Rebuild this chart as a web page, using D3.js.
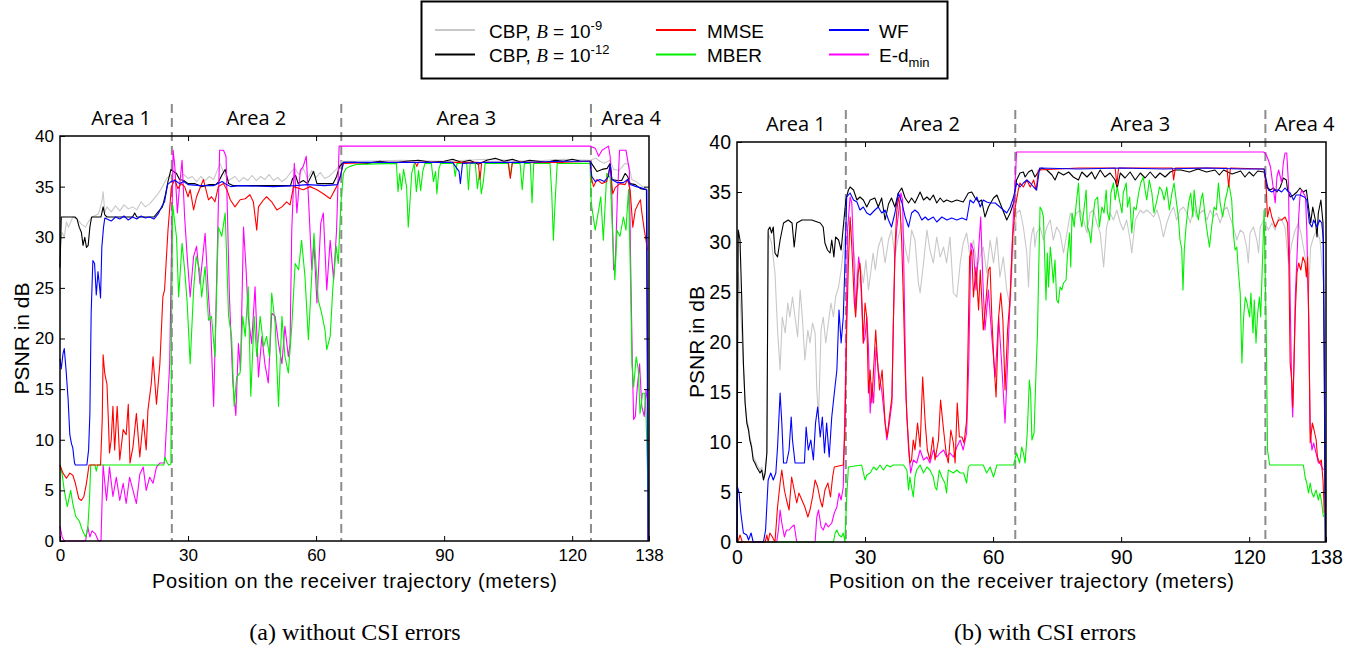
<!DOCTYPE html>
<html>
<head>
<meta charset="utf-8">
<script src="https://cdn.jsdelivr.net/npm/d3@7"></script>
<style>
  body { margin: 0; background: #fff; }
  text { font-family: "Liberation Sans", Arial, sans-serif; fill: #000; }
</style>
</head>
<body>
<script>
'use strict';

// axis ticks
const xTicks = [0, 30, 60, 90, 120, 138];
const yTicks = [0, 5, 10, 15, 20, 25, 30, 35, 40];

// areas along the trajectory (meters)
const areaNames = ["Area 1", "Area 2", "Area 3", "Area 4"];
const a_areaPos = [14.3, 46, 95.2, 133.8];
const b_areaPos = [13.8, 45.2, 94.5, 133];
const a_borders = [26.2, 65.9, 124.4];
const b_borders = [25.5, 65.2, 123.8];

const seriesKeys = ["cbp9", "cbp12", "edmin", "mber", "mmse", "wf"];
const seriesColors = {cbp9: "#c8c8c8", cbp12: "#000000", mmse: "#ff0000",
  mber: "#00f000", wf: "#0000ff", edmin: "#ff00ff"};

// ---------- (a) without CSI errors : [position m, PSNR dB] ----------
const a_cbp9 = [[0,29],[0.5,30.5],[1,30],[1.5,31.5],[2,31],[3,32],[4,31.8],[5,31.3],[6,31],[6.6,31.5],[7.5,32],[9,32.3],[9.8,33.5],[10.1,34.5],[10.5,32.5],[11,33],[12,32.5],[13,33.1],[14,32.6],[15,33.2],[16,32.8],[17,33],[18,32.7],[19,33.5],[20,33],[21,33.3],[22,33.8],[23,34.3],[24,35],[25,35.8],[26,36.2],[27,36.4],[28,35.8],[29,36.2],[30,35.8],[31,36],[32,35.5],[33,36],[34,35.6],[35,36],[36,35.7],[37.5,37.3],[38.5,36.2],[39.5,35.6],[41,36],[42,35.5],[43,35.9],[44,35.6],[45,36.1],[46,35.6],[47,36],[48,35.7],[49,36.2],[50,35.6],[51,35.9],[52,35.5],[53,35.8],[54,36.4],[55,36.8],[56,36.2],[57,36.8],[58,35.8],[59,36.6],[60,35.9],[61,36.4],[62,35.8],[63,36],[64,36.4],[65,36.8],[66,37.5],[70,37.5],[80,37.6],[90,37.5],[100,37.7],[110,37.5],[118,37.7],[124.2,37.6],[125.5,37.8],[126.5,37.5],[127.5,37.3],[128.9,37.6],[129.7,36.7],[131,36.6],[132.4,37.3],[133.2,37.2],[134,35.7],[135,35.5],[136.5,35],[137.6,34.8]];

const a_cbp12 = [[0,27],[0.3,32],[3.5,32],[4,31.8],[4.5,31],[5,30.5],[5.4,29.2],[5.8,30],[6.2,29],[6.6,29.2],[7,31],[7.4,32],[9.6,32],[10.1,33],[10.5,32.2],[11,32],[17,32],[17.5,32.4],[18,32],[22,32],[23,32.5],[24,33],[24.7,34.2],[25.3,35.5],[26,36.7],[26.6,36.5],[27.3,36.3],[28,35.7],[29,35.6],[30,35.3],[31.5,35.3],[33.2,35],[35,35.2],[36.5,35.2],[37.2,35.5],[38,36.2],[38.7,36.7],[39.5,35.3],[40.5,35.1],[54,35.1],[54.5,35.8],[55.2,36.1],[55.8,35.3],[57,35.6],[58,35.3],[59.4,36.5],[60.2,35.3],[64,35.3],[64.8,36],[65.5,37],[66.4,37.4],[69,37.4],[72,37.3],[75,37.5],[78,37.3],[81,37.5],[84,37.6],[87,37.4],[90,37.5],[92,37.7],[94,37.4],[96,37.6],[98,37.2],[100,37.6],[102,37.8],[104,37.5],[106,37.7],[108,37.4],[110,37.6],[112,37.5],[114,37.4],[116,37.6],[118,37.5],[120,37.7],[122,37.5],[124.2,37.5],[125,37],[125.8,36.5],[127,36.7],[128.2,36.8],[128.9,37.3],[129.3,35.7],[130.5,35.6],[131.6,35.6],[132.4,36.3],[133,36],[133.6,35.3],[134.8,35.2],[136,34.8],[137.4,34.7],[137.8,0]];

const a_wf = [[0,18],[0.3,17],[0.7,18.5],[1,19],[1.4,17],[1.9,14],[2.3,10.5],[2.7,9.6],[3,9.2],[3.4,7.7],[3.6,7.5],[6.3,7.5],[6.7,9],[7,12.6],[7.3,22.5],[7.7,27.7],[8.1,27.4],[8.5,24.3],[8.9,26.6],[9.3,25],[9.5,24],[9.8,29],[10.2,31],[10.5,31.9],[11,31.8],[12,31.6],[13,32],[14,31.8],[15,32.1],[16,31.7],[17,32],[18,31.8],[19,32.1],[20,31.9],[21,32],[22,31.8],[23,32.3],[23.8,33],[24.5,33.5],[25.2,35.2],[26,35.5],[27,35.6],[28,35.3],[29,35.5],[30,35.2],[33,35.1],[36,35.1],[37,35.3],[38,35.5],[39,35.2],[40,35],[42,35.1],[50,35],[55,35.1],[58,35.2],[62,35.1],[65,35.2],[65.7,36],[66.4,37.4],[75,37.4],[85,37.4],[92,37.4],[93.5,36.5],[93.8,35.3],[94.3,37.3],[100,37.4],[110,37.4],[118,37.5],[124.2,37.5],[124.6,36],[125.4,35.5],[126.5,35.7],[127.5,35.5],[128.5,36],[128.9,37.2],[129.3,35.7],[130.5,35.4],[132,35.4],[133,35.7],[133.6,35.2],[135,35],[136,34.9],[137.5,34.7],[137.8,0]];

const a_mmse = [[0,7.5],[0.7,6.7],[1.5,6.2],[2.3,6.7],[3,6.5],[3.6,5.7],[4.4,4.2],[5,4],[5.6,4.4],[6.2,5.7],[6.8,7.5],[9.5,7.5],[9.9,12],[10.1,18.4],[10.5,16.5],[11,15.5],[11.3,12.3],[11.6,8.7],[12,10],[12.4,13.3],[12.8,9],[13.4,13.3],[14,8],[14.8,11],[15.5,10.5],[16,13.5],[16.4,7.7],[17.1,9.3],[17.9,12.6],[18.7,8.3],[19.5,12],[20.2,9],[20.6,12.9],[21.4,15.6],[21.8,18.2],[22.6,13.5],[23.4,17.5],[24.1,24.1],[24.5,24.8],[25.3,30.7],[26.1,35],[26.9,35.7],[27.6,34.8],[28.4,35.3],[29.2,35],[30,34],[30.5,34.7],[31.3,32.7],[32,34],[33.6,35.7],[34.8,33.7],[35.5,34],[36.3,33.5],[37.1,35],[38.3,35.3],[39.1,34.7],[39.9,33.7],[41,33],[42.2,33.7],[43.4,33.8],[44.5,34.2],[45.3,33.5],[46.1,30.7],[46.5,33],[47.7,33.7],[48.4,34],[49.6,33.5],[50.8,32.7],[52,33],[53.1,33.5],[53.9,33.2],[54.7,35],[57,34.7],[58.6,35],[60.2,34.7],[61.7,34.3],[63.3,33.8],[64.8,35],[65.5,35.8],[66.4,37.3],[75,37.4],[83.2,37.4],[83.6,37],[84,37.4],[98,37.4],[98.4,35.7],[98.8,37.4],[105,37.4],[105.5,35.8],[106,37.4],[118,37.4],[124.2,37.5],[124.6,35.7],[125,35],[125.8,35.7],[127,35.3],[128.1,35.5],[128.9,37.1],[129.5,34.3],[130.1,34.9],[131.2,35.3],[132.4,35.2],[133,35.7],[133.6,34.6],[134.2,31],[134.8,32.7],[135.5,33.3],[136,33.7],[136.3,32.5],[136.9,30.7],[137.3,29.7],[137.6,28.7]];

const a_mber = [[0,7.5],[0.5,6.6],[1,5],[1.7,3.4],[2.5,5],[3,3.7],[3.7,2.4],[4.5,2],[5.2,1.1],[6,0.4],[6.5,1.2],[6.9,4],[7.2,7.5],[8.2,7.5],[8.5,6.9],[8.8,7.5],[24.3,7.5],[24.6,8.3],[25,7.8],[25.5,7.5],[26,7.6],[26.1,20],[26.4,33.2],[27.3,30],[27.8,24.1],[28.6,29.4],[29.2,26.8],[29.8,23.5],[30.5,17.5],[31.3,24.8],[31.9,28.1],[32.7,26.8],[33.2,24.1],[34,27.1],[34.8,21.8],[35.5,22.2],[36.3,18.2],[37.1,31],[37.9,30.1],[38.7,32.4],[39.5,22.2],[40.2,20.2],[40.8,13.3],[41.4,16.2],[42.2,16.6],[42.8,22.2],[43.4,20.2],[44.1,25.1],[44.7,14.3],[45.5,22.2],[46.1,18.2],[46.9,22.2],[47.7,19.2],[48.4,20.2],[49.1,18.2],[49.6,24.5],[50.4,21.5],[51.2,13.3],[52,22.2],[52.7,18.2],[53.5,16.6],[54.3,21.2],[55.1,27.4],[55.9,26.8],[56.6,29.7],[57.4,26.1],[58.2,19.9],[59,26.4],[59.5,30.4],[60.5,23.8],[61.3,22.5],[62.1,20.8],[62.5,18.9],[63.3,20.2],[63.9,24.8],[64.7,29.1],[65.2,27.4],[65.8,33.3],[66.4,36.3],[67,36.8],[68,37],[69.5,37.2],[78.8,37.3],[79.2,34.5],[79.6,36.3],[80,34.7],[80.5,36.7],[81.2,35],[81.6,31],[82,33.5],[82.4,36.3],[83,37.3],[83.5,34.5],[84,36.6],[84.5,34.6],[85,36.5],[85.5,37.3],[87,37.3],[87.5,35.5],[88,36.5],[88.3,34.3],[88.8,36.8],[89.2,37.3],[92.2,37.3],[92.6,36],[93,37.3],[95.3,37.3],[95.7,34.7],[96.1,37.3],[97.3,37.3],[97.8,34.8],[98.3,36.5],[98.7,34.3],[99.2,35.5],[99.6,37.3],[105.1,37.3],[105.5,36],[105.9,37.3],[107.8,37.3],[108.3,34.7],[108.8,37.3],[110.2,37.3],[110.6,33.4],[111,37.3],[114.8,37.3],[115.2,34.5],[115.6,29.7],[116,33.5],[116.5,37.3],[124.2,37.3],[124.4,34],[124.6,33],[125.4,30.7],[126.2,32.7],[126.7,34],[127.3,29.7],[128.1,36.3],[128.9,35.9],[129.5,30.1],[130,25.8],[130.5,30.7],[131.2,30.1],[132,32],[132.6,30.7],[133.2,34.7],[133.6,27.4],[134,17.5],[134.4,15.2],[135,18.2],[135.5,16.9],[135.9,12.6],[136.5,14.6],[137,14.6],[137.3,12.6],[137.7,6],[137.9,0]];

const a_edmin = [[0,1.5],[0.5,0.4],[1,0],[6,0],[6.5,1.4],[7,0.4],[7.5,1],[8.3,0.7],[9,0],[9.6,0],[10.1,7.5],[10.9,4],[11.6,7.3],[12.4,4.4],[13.2,6.3],[14,4],[14.8,5.7],[15.5,3.7],[16.3,6.3],[17.1,5],[17.9,3.7],[18.7,6.6],[19.5,7.3],[20.2,5],[21,6.3],[21.8,5.7],[22.6,7.3],[23.4,7.7],[24.5,7.7],[25.7,17.5],[26.5,38.6],[26.9,37],[27.5,32.4],[28,35],[28.6,37.6],[29.2,32],[29.8,28.1],[30.5,24.1],[31.3,28.1],[32,29.1],[32.8,25.4],[34,30.4],[34.8,24.1],[35.3,21.2],[36,13.3],[36.7,25.8],[37.4,38.6],[38.3,38.6],[38.9,38],[39.7,24.1],[40.5,15.6],[41.2,12.4],[41.8,19.5],[42.3,16.9],[43,31],[43.6,26.8],[44.1,22.2],[44.9,19.5],[45.7,25.1],[46.5,16.2],[47.3,20.2],[48,17.5],[48.8,15.6],[49.6,22.5],[50.4,22.2],[51.2,19.5],[52,17.5],[52.7,21.2],[53.5,18.2],[53.9,19.5],[54.3,30.7],[54.9,37.3],[55.5,32.4],[56.3,36.6],[57,37],[57.7,38],[58.2,34],[59,26.8],[59.5,29.4],[60.2,23.5],[61.1,31.4],[61.7,32.4],[62.5,24.8],[63.3,29.7],[64.1,25.8],[64.8,30.7],[65.4,39],[66,39],[124.2,39],[125.4,38.8],[126.2,38],[127,38.6],[128.5,39],[128.9,38],[129.3,34],[129.7,26.8],[130.1,27.4],[130.6,34],[131.1,38.6],[132.6,38.6],[133.4,36.6],[133.7,27.4],[134.1,17.5],[134.4,12],[134.8,12.3],[135.2,14.9],[135.8,17.5],[136.3,13.3],[136.9,12.3],[137.3,14.9],[137.6,14],[137.8,0]];

// ---------- (b) with CSI errors ----------
const b_cbp9 = [[0,22.5],[0.3,26.9],[0.7,24.5],[1,22],[1.5,17.5],[1.9,14],[2.3,12.2],[2.7,11.5],[3,10.5],[3.4,9.8],[3.8,8.5],[4.2,8.2],[4.6,7.8],[5,7.5],[5.4,7.2],[5.8,7.5],[6.2,6.5],[6.6,7.2],[7,9],[7.3,30.9],[8.1,29.9],[8.9,26.9],[9.5,21.2],[10.1,17.2],[10.6,22.5],[11.3,20.9],[11.9,23.9],[12.4,22.5],[13,24.5],[13.6,22.5],[14.2,20.5],[14.8,25.2],[15.3,22.5],[15.9,18.2],[16.6,21.2],[17.1,19.9],[17.7,21.9],[18.3,20.9],[18.7,15.2],[19.1,12.5],[19.7,21.2],[20.2,22.5],[20.8,19.9],[21.4,21.9],[22,23.9],[22.6,22.5],[23.1,24.5],[23.8,25.5],[24.4,27.2],[24.9,29.2],[25.5,31.2],[26.5,32.2],[27.3,29.2],[27.7,27.9],[28.3,25.2],[29.1,27.2],[29.6,25.9],[30.2,28.2],[30.8,25.2],[31.4,27.2],[31.9,28.9],[32.4,27.2],[33.1,29.5],[33.9,30.5],[34.7,27.9],[35.5,30.2],[36.2,31.2],[37,28.5],[37.8,30.5],[38.6,31.9],[39.4,29.5],[40.2,27.9],[40.9,31.2],[41.7,30.2],[42.5,25.9],[42.9,24.9],[43.7,27.9],[44.5,31.2],[45.2,29.2],[46,27.9],[46.8,30.5],[47.6,28.5],[48.4,29.5],[49.1,27.9],[49.9,30.5],[50.7,24.9],[51.5,24.5],[52.3,27.9],[53,29.9],[53.8,30.9],[54.6,28.5],[55.4,30.2],[56.2,27.5],[56.9,28.5],[57.7,29.5],[58.5,26.9],[59.3,30.2],[60.1,27.9],[60.9,30.5],[61.6,26.5],[62.4,28.5],[63.2,25.2],[64,23.5],[64.8,30.2],[65.5,32.9],[66.3,33.2],[67.1,31.5],[67.9,28.9],[68.3,25.5],[68.7,29.5],[69.1,30.9],[69.5,31.5],[69.8,29.5],[70.2,30.9],[71,31.5],[71.8,30.2],[72.6,31.5],[73.4,32.2],[74.1,30.2],[74.9,31.5],[75.7,30.9],[76.5,28.9],[77.3,30.9],[78.1,32.9],[78.8,32.2],[79.6,32.9],[80.4,33.2],[81.2,32.2],[82,30.9],[82.7,32.9],[83.5,33.2],[84.3,31.9],[85.1,30.9],[85.9,27.5],[86.6,31.5],[87.4,32.9],[88.2,32.2],[89,33.2],[89.8,31.9],[90.5,31.2],[91.3,32.2],[92.1,30.2],[92.5,28.9],[93.3,32.2],[94.5,33.2],[95.2,32.9],[96,33.2],[96.8,32.9],[97.6,32.5],[98.4,33.2],[99.1,32.2],[99.9,30.5],[100.7,31.9],[101.5,32.9],[102.3,33.5],[103,32.2],[103.8,33.2],[104.6,33.5],[105.4,32.9],[106.2,31.9],[107,33.5],[107.7,32.5],[108.5,32.9],[109.3,33.2],[110.1,32.2],[110.9,33.2],[111.6,32.5],[112.4,32.9],[113.2,31.9],[114,33.2],[114.8,33.5],[115.5,32.5],[116.3,31.5],[117.1,30.2],[117.9,31.2],[118.7,30.9],[119.4,29.5],[119.8,27.9],[120.2,30.9],[121,31.5],[121.8,30.2],[122.2,28.9],[122.6,31.5],[123.4,32.2],[124.5,31.2],[125.3,31.9],[126.1,31.2],[126.9,32.5],[127.6,32.2],[128.4,31.5],[129.2,27.9],[130,29.9],[130.8,31.2],[131.6,31.9],[132.3,30.5],[133.1,28.5],[133.9,24.9],[134.4,29.5],[135.1,30.5],[135.8,31.2],[136.6,30.2],[137.4,25.9]];

const b_cbp12 = [[0,0],[0.2,25],[0.3,31.2],[0.7,30.2],[1.1,24.5],[1.5,17.9],[1.9,13.9],[2.3,11.9],[2.7,11.2],[3,10.2],[3.4,9.5],[3.8,8.2],[4.2,7.9],[4.6,7.5],[5,7.2],[5.4,6.9],[5.8,7.2],[6.2,6.2],[6.6,6.9],[7,8.9],[7.3,31.2],[7.7,31.5],[8.1,30.9],[8.5,31.5],[8.9,28.9],[9.5,28.5],[10.1,30.2],[10.9,31.9],[12,32.2],[12.9,31.9],[13.4,29.5],[14,31.9],[15.2,32.2],[17.5,32.2],[19.5,31.9],[20.2,31.5],[20.6,29.9],[21.2,29.2],[21.8,28.9],[22.2,30.2],[22.7,28.5],[23.1,30.5],[23.8,30.2],[24.4,29.2],[24.9,31.5],[25.5,34.2],[26.1,35.2],[26.5,35.5],[27.3,35.2],[28.1,34.2],[28.8,34.5],[29.6,34.2],[30.4,33.5],[31.2,34.2],[32.3,34.4],[33.1,33.5],[33.9,34.4],[34.7,32.2],[35.5,33.8],[36.2,34.4],[37,33.5],[37.8,34.9],[38.6,35.4],[39.4,34.4],[40.2,33.9],[40.9,34.4],[41.7,33.9],[42.9,35],[43.7,34.2],[44.5,34.5],[45.2,34.2],[46,34.7],[46.8,33.9],[47.6,34.4],[48.4,34],[49.1,34.2],[50.3,34],[51.5,34.2],[53,34],[54.2,34.9],[55,35],[55.8,34.4],[56.6,34],[57.3,34.2],[58.1,32.5],[58.9,33.5],[60.1,34.4],[60.9,34.7],[62,33.5],[63.2,32.2],[64,32.9],[64.8,33.9],[65.5,36.2],[66.3,36.9],[67.1,37],[67.5,36.5],[68.3,37],[69.1,37.2],[69.8,36.5],[70.6,37],[71.4,37.4],[72.6,37.2],[73.8,36.7],[74.5,36.2],[75.3,37],[76.5,36.7],[77.7,37],[78.8,36.5],[80,36.2],[80.8,37],[82,36.5],[83.1,37],[83.9,36.3],[85.1,37.2],[86.2,36.5],[87.4,36.9],[88.6,36.2],[89.1,35.4],[89.8,36.9],[90.9,36.4],[92.1,37],[93.3,36.2],[94.5,36.9],[95.6,36.4],[96.8,37],[98,36.4],[99.1,36.9],[100.3,36.5],[101.5,37],[102.7,37.2],[104,37.2],[106,37],[108,37.3],[110,37],[112,37.2],[113,36.7],[114,37.2],[116,36.8],[118,37.1],[119,36.5],[120,37],[121,36.6],[122,37.1],[123.5,37],[124.1,35.5],[124.9,35.2],[125.7,35.4],[126.5,35],[127.3,35.5],[128,36.4],[128.7,36.2],[129,35.2],[129.6,34.5],[130.4,34.7],[131.2,35],[131.9,35.4],[132.7,35],[133.4,35.2],[133.9,33.5],[134.4,31.9],[134.9,33.5],[135.5,32.2],[135.9,30.5],[136.2,32.9],[136.8,34.2],[137.3,31.9],[137.6,17.9],[137.8,0]];

const b_wf = [[0,0],[0.1,5.5],[0.5,4.9],[0.9,2.9],[1.5,0.9],[2.3,0.7],[2.7,0.2],[3.3,0.9],[3.8,0],[6.2,0],[6.7,1.2],[7.3,6.2],[7.9,6.9],[8.5,6.2],[9.1,6.9],[9.5,9.5],[10.1,14.9],[10.5,11.9],[10.9,7.9],[11.6,7.9],[12.2,9.2],[12.7,12.5],[13,10.2],[13.6,7.9],[15.8,7.9],[16.2,11.5],[16.7,9.2],[17.3,10.2],[17.9,8.2],[18.4,11.9],[18.9,13.5],[19.5,10.5],[20,12.5],[20.5,8.9],[21,11.9],[21.6,8.5],[22.2,12.5],[22.8,14.9],[23.4,17.2],[23.9,23.2],[24.4,19.9],[24.9,22.5],[25.3,27.9],[25.7,34.5],[26.5,34.9],[27.3,34.2],[28.1,34],[28.8,33.2],[29.6,33.5],[30.4,32.9],[31.2,32.7],[32.3,33.2],[33.1,33.5],[33.9,32.9],[34.7,33.2],[35.5,32.2],[36.2,31.5],[37,32.9],[37.8,34.9],[38.6,34],[39.4,32.5],[40.2,31.5],[40.9,32.9],[41.7,33.2],[42.5,32.9],[43.3,32.2],[44.1,32.5],[44.8,32.2],[46,32.5],[46.8,32],[48,32.5],[49.2,32.2],[50.3,32.4],[51.5,32.2],[52.7,32.4],[53.8,32.2],[54.6,34.2],[55.4,33.9],[56.2,34.5],[57,33.5],[57.7,34.2],[58.5,34],[59.3,33.9],[60.5,33.9],[61.6,33.5],[62.4,33.2],[63.2,32.9],[64,33.5],[64.8,34.5],[65.5,35.9],[66.3,35.5],[67.1,35.9],[67.9,36.2],[68.7,35.9],[69.5,35.5],[70.2,35.2],[70.9,37.4],[80,37.3],[90,37.4],[100,37.3],[110,37.4],[118,37.3],[123.5,37.3],[124.1,36],[124.5,35.2],[125.3,35],[126.1,35.2],[126.9,35.2],[127.6,35],[128.4,35.4],[128.8,35.2],[129.6,34.9],[130.4,34.2],[131,34.7],[131.9,34.7],[132.9,34.5],[133.5,34.2],[134.1,31.9],[134.7,31.5],[135.1,32.2],[135.9,31.5],[136.5,32.2],[137,31.9],[137.4,30.2],[137.7,11],[137.9,0]];

const b_mmse = [[0,0],[0.2,0],[0.7,0.7],[1.25,0],[6.6,0],[7,0.7],[7.3,0],[7.7,0.9],[8.3,0.5],[8.9,0],[9.5,3.5],[10.1,5.9],[10.5,7.2],[11.1,5.2],[11.6,4.2],[12.2,3.2],[12.8,6.5],[13.4,5.2],[14,3.9],[14.5,4.9],[15.2,4.2],[15.9,3.5],[16.6,2.5],[17.1,3.2],[17.7,4.5],[18.3,6.2],[18.9,5.5],[19.5,4.2],[20,3.5],[20.6,5.2],[21.3,5.9],[21.9,4.5],[22.4,6.5],[22.8,7.5],[24.9,7.7],[25.3,11.2],[25.7,21.2],[26.1,27.9],[26.5,32.5],[26.9,29.5],[27.5,23.9],[27.8,22.5],[28.4,26.9],[28.8,27.9],[29.2,24.9],[29.6,19.9],[30,23.9],[30.4,22.5],[30.8,14.9],[31.2,17.2],[31.6,13.9],[32,17.2],[32.5,21.2],[32.9,18.2],[33.4,15.2],[34,17.2],[34.7,11.9],[35.2,10.5],[35.7,12.5],[36.3,14.5],[36.6,21.2],[37,29.2],[37.4,32.9],[37.8,34.5],[38.2,33.5],[38.6,29.9],[39,23.9],[39.4,17.2],[39.8,12.5],[40.2,9.9],[40.5,7.9],[40.9,8.2],[41.3,10.2],[41.7,9.2],[42.3,11.9],[42.9,9.5],[43.5,16.5],[44.1,11.9],[44.6,9.2],[45.2,8.2],[45.9,10.5],[46.4,8.2],[47.2,10.2],[47.7,14.2],[48.4,11.2],[49,8.9],[49.5,7.9],[50.1,11.2],[50.7,9.9],[51.1,7.9],[51.6,13.9],[52.1,10.5],[52.7,10.5],[53.2,9.9],[53.8,12.2],[54.2,21.2],[54.5,28.5],[55,29.2],[55.4,24.5],[56,27.5],[56.6,23.2],[57,27.2],[57.7,21.2],[58.3,23.9],[58.9,27.2],[59.3,27.5],[59.7,22.5],[60.2,17.9],[60.7,14.5],[61.3,22.5],[61.8,24.9],[62.3,22.2],[62.8,15.2],[63.4,21.2],[64,24.5],[64.6,30.5],[65.2,33.5],[65.9,35.2],[66.3,35.9],[67.1,35.5],[67.9,36.2],[68.7,35.5],[69.5,36.2],[70.1,35.2],[70.6,37.2],[80,37.4],[88.6,37.4],[89,35.7],[89.4,37.4],[102,37.4],[102.3,36.2],[102.7,37.4],[114.8,37.4],[115.2,35.5],[115.6,37.4],[123.5,37.3],[123.9,36.2],[124.3,32.5],[124.8,33.5],[125.3,32.5],[126.1,31.5],[126.9,32.2],[127.6,32.2],[128.4,32.5],[129,31.9],[129.3,27.9],[129.6,17.9],[130,16],[130.2,13.5],[130.5,17.9],[130.8,22.9],[131.2,26.9],[131.6,27.9],[132.1,27.2],[132.6,28.5],[133.1,27.9],[133.4,26.5],[133.7,28.5],[134,21.2],[134.3,9.9],[134.8,11.9],[135.2,11.2],[135.7,10.2],[136,8.5],[136.5,7.9],[136.9,8.2],[137.3,6.2],[137.6,2.9]];

const b_mber = [[0,0],[22.6,0],[23,0.9],[23.4,1.2],[23.9,0.7],[24.5,0.5],[24.9,0.9],[25.3,0],[25.7,4.5],[26.1,7.5],[29.2,7.7],[30,6.2],[30.4,6.7],[31.2,6.9],[32,7.5],[32.7,7.2],[33.5,7.7],[34.3,7.2],[35.1,7.7],[35.9,7.5],[36.6,7.7],[39,7.7],[39.8,7.2],[40.2,5.2],[40.5,6.5],[40.9,5.5],[41.3,4.5],[41.7,6.5],[42.1,7.2],[42.9,7.7],[43.7,6.9],[44.5,7.5],[45.2,7.2],[46,6.5],[46.4,5.5],[46.8,5.2],[47.4,7.2],[48,6.5],[48.7,5.9],[49.1,4.9],[49.5,7.2],[50.7,6.9],[51.5,7.2],[52.3,6.9],[53.1,6.9],[53.8,5.9],[54.2,7.5],[54.6,7.7],[57.7,7.7],[58.5,6.9],[59.3,7.5],[60.1,6.5],[60.9,7.7],[64.8,7.7],[65.5,8.9],[66.2,7.9],[66.7,9.5],[67.1,8.9],[67.5,7.9],[68,10.9],[68.5,16.2],[68.8,14.9],[69.1,10.2],[69.6,10.9],[70.1,17.5],[70.4,20.9],[70.7,27.5],[71,33.5],[71.4,33.2],[71.8,32.5],[72.2,26.9],[72.4,24.2],[72.7,28.9],[73,25.5],[73.4,29.5],[73.7,28.2],[74.1,25.9],[74.5,28.2],[74.9,24.2],[75.3,23.9],[75.7,25.5],[76.1,25.2],[76.5,25.9],[77.1,26.2],[77.4,28.5],[77.9,30.9],[78.2,27.5],[78.5,32.9],[79,31.5],[79.4,33.5],[80,35.9],[80.4,32.5],[80.8,31.5],[81.2,32.9],[81.8,35.2],[82.1,31.5],[82.6,30.9],[82.9,29.9],[83.4,32.5],[83.9,34.2],[84.5,34.5],[84.9,31.5],[85.5,33.5],[86,32.9],[86.5,35.2],[86.8,32.9],[87.3,32.2],[87.6,34.9],[88.2,35.9],[88.6,34.2],[89.1,35.5],[89.6,34.2],[90.2,32.9],[90.5,34.9],[91.2,35.9],[91.5,33.5],[92,34.5],[92.5,30.9],[93,33.5],[93.5,33.2],[94.1,34.9],[94.6,35.9],[95.2,36.5],[95.6,35.2],[96,34.2],[96.6,36.2],[97.2,34.9],[97.7,32.9],[98.4,34.2],[99,35.5],[99.5,35.2],[100.1,34.2],[100.7,35.5],[101.3,33.2],[101.9,34.9],[102.4,35.9],[102.9,34.2],[103.4,32.5],[103.8,30.2],[104.2,29.3],[104.5,25.2],[104.8,29.2],[105.2,31.5],[105.8,33.9],[106.3,34.9],[106.8,32.5],[107.1,35.2],[107.6,33.2],[108.1,32.2],[108.7,34.2],[109.1,34.9],[109.7,32.5],[110.2,30.9],[110.7,29.5],[111.2,31.5],[111.8,33.5],[112.3,33.2],[112.8,35.9],[113.2,33.9],[113.8,32.5],[114.4,34.2],[114.8,34.9],[115.2,35.9],[115.5,35.2],[115.9,34.2],[116.3,30.9],[116.7,29.2],[117.1,29.5],[117.5,26.9],[117.9,24.9],[118.3,17.9],[118.7,22.5],[119.1,24.5],[119.5,23.9],[120.1,22.5],[120.4,24.9],[120.9,20.9],[121.2,24.2],[121.6,19.9],[122,22.9],[122.4,24.5],[122.7,22.5],[123.2,29.2],[123.5,33.2],[124,20.9],[124.3,9.2],[124.8,7.7],[132.7,7.7],[133.1,6.5],[133.5,5.9],[133.9,4.9],[134.3,5.9],[134.7,4.9],[135.1,4.5],[135.7,5.2],[136.2,4.2],[136.6,4.9],[137,3.9],[137.4,2.5]];

const b_edmin = [[0,0],[9.3,0],[9.7,1.2],[10.1,3.2],[10.5,1.9],[11.1,0.5],[11.6,1.2],[12.2,1.2],[12.8,1.5],[13.4,1.7],[14,0],[18.3,0],[18.7,2.5],[19.1,3.2],[19.7,1.5],[20.2,1.2],[20.8,1.9],[21.4,1.5],[22.2,1.9],[22.8,2.9],[23.4,3.5],[23.9,4.9],[24.4,4.2],[24.9,5.5],[25.5,17.9],[25.9,31.2],[26.5,34.5],[26.9,33.9],[27.3,29.2],[27.8,23.2],[28.5,28.5],[28.9,27.2],[29.2,23.9],[29.6,19.9],[30,20.5],[30.4,22.5],[30.8,19.5],[31.2,12.9],[31.6,15.9],[32,13.9],[32.6,19.5],[33.1,17.2],[33.9,15.2],[34.7,11.9],[35.1,10.2],[35.7,11.9],[36.3,13.9],[36.6,21.2],[37,28.5],[37.4,31.2],[38,33.5],[38.4,34.9],[38.8,34.2],[39.1,27.2],[39.6,14.5],[40.2,9.2],[40.7,6.9],[41.3,8.2],[42.1,7.9],[42.9,9.2],[43.7,8.2],[44.5,8.5],[45.2,7.9],[46,9.2],[46.8,8.5],[47.6,8.9],[48.4,9.2],[49.1,8.5],[49.9,8.9],[50.7,8.5],[51.5,9.5],[52.3,10.2],[53,9.2],[53.8,10.9],[54.3,17.9],[54.8,29.9],[55.4,29.2],[56,25.2],[56.6,29.2],[57.1,32.5],[57.6,26.2],[58.1,21.2],[58.9,25.2],[59.7,20.5],[60.5,16.5],[61.3,22.5],[62,17.9],[62.8,11.9],[63.4,17.9],[64,24.5],[64.6,31.2],[65.5,39],[66.2,39],[123.4,39],[123.9,38.8],[124.5,38.2],[125,37.5],[125.7,35.2],[126.1,33.9],[126.5,36.5],[126.9,37.2],[127.3,36.5],[127.6,35.9],[128,37.9],[128.4,38.9],[128.8,38.9],[129.2,35.9],[129.6,24.5],[130,14.5],[130.2,12.5],[130.5,17.9],[130.8,24.5],[131.2,28.5],[131.6,32.5],[131.9,34.5],[132.3,35.2],[132.7,34.9],[133.2,34.5],[133.5,31.2],[133.9,23.2],[134.3,11.2],[134.7,9.2],[135.1,9.9],[135.5,9.2],[135.9,8.5],[136.2,7.9],[136.6,7.9],[137,7.5],[137.4,7.2]];

const svg = d3.select("body").append("svg")
  .attr("width", 1355)
  .attr("height", 649);

window.onload = function() {
  drawLegend();
  drawPanel({
    left: 60, right: 649, top: 136, bottom: 541, tickFont: 17,
    areaPos: a_areaPos, borders: a_borders, caption: "(a) without CSI errors", captionX: 355,
    ylabX: 22,
    series: {cbp9: a_cbp9, cbp12: a_cbp12, mmse: a_mmse, mber: a_mber, wf: a_wf, edmin: a_edmin}
  });
  drawPanel({
    left: 737, right: 1326, top: 142, bottom: 542, tickFont: 19.5,
    areaPos: b_areaPos, borders: b_borders, caption: "(b) with CSI errors", captionX: 1045,
    ylabX: 697,
    series: {cbp9: b_cbp9, cbp12: b_cbp12, mmse: b_mmse, mber: b_mber, wf: b_wf, edmin: b_edmin}
  });
};

function drawPanel(p) {
  let x = d3.scaleLinear().domain([0, 138]).range([p.left, p.right]);
  let y = d3.scaleLinear().domain([0, 40]).range([p.bottom, p.top]);
  let g = svg.append("g");

  // area borders
  g.selectAll(".border")
    .data(p.borders)
    .enter()
    .append("line")
    .attr("x1", d => x(d)).attr("x2", d => x(d))
    .attr("y1", p.top - 32).attr("y2", p.bottom)
    .attr("stroke", "#8c8c8c")
    .attr("stroke-width", 2)
    .style("stroke-dasharray", "9,5");

  // area names
  g.selectAll(".area")
    .data(areaNames)
    .enter()
    .append("text")
    .attr("x", (d, i) => x(p.areaPos[i]))
    .attr("y", p.top - 11)
    .attr("text-anchor", "middle")
    .style("font-family", "'Open Sans', sans-serif")
    .style("font-size", "20px")
    .text(d => d);

  // series
  let line = d3.line().x(d => x(d[0])).y(d => y(d[1]));
  seriesKeys.forEach(function(k) {
    g.append("path")
      .attr("d", line(p.series[k]))
      .attr("fill", "none")
      .attr("stroke", seriesColors[k])
      .attr("stroke-width", 1.1)
      .attr("stroke-linejoin", "round");
  });

  // inward ticks on all four sides
  g.append("g")
    .attr("transform", "translate(0," + p.bottom + ")")
    .call(d3.axisBottom(x).tickValues(xTicks).tickSizeInner(-5).tickSizeOuter(0).tickPadding(8))
    .call(a => a.select(".domain").remove())
    .selectAll("text")
    .style("font-family", "'Liberation Sans', Arial, sans-serif")
    .style("font-size", p.tickFont + "px");
  g.append("g")
    .attr("transform", "translate(0," + p.top + ")")
    .call(d3.axisTop(x).tickValues(xTicks.slice(1, 5)).tickSizeInner(-5).tickSizeOuter(0).tickFormat(""))
    .call(a => a.select(".domain").remove());
  g.append("g")
    .attr("transform", "translate(" + p.left + ",0)")
    .call(d3.axisLeft(y).tickValues(yTicks).tickSizeInner(-5).tickSizeOuter(0).tickPadding(6))
    .call(a => a.select(".domain").remove())
    .selectAll("text")
    .style("font-family", "'Liberation Sans', Arial, sans-serif")
    .style("font-size", p.tickFont + "px");
  g.append("g")
    .attr("transform", "translate(" + p.right + ",0)")
    .call(d3.axisRight(y).tickValues(yTicks.slice(1, 8)).tickSizeInner(-5).tickSizeOuter(0).tickFormat(""))
    .call(a => a.select(".domain").remove());

  // frame
  g.append("rect")
    .attr("x", p.left).attr("y", p.top)
    .attr("width", p.right - p.left).attr("height", p.bottom - p.top)
    .attr("fill", "none")
    .attr("stroke", "#000")
    .attr("stroke-width", 1.5);

  // axis titles
  g.append("text")
    .attr("transform", "translate(" + p.ylabX + "," + ((p.top + p.bottom) / 2) + ")rotate(-90)")
    .attr("text-anchor", "middle")
    .attr("dy", "0.35em")
    .style("font-size", "21px")
    .text("PSNR in dB");
  g.append("text")
    .attr("x", (p.left + p.right) / 2)
    .attr("y", 588)
    .attr("text-anchor", "middle")
    .attr("textLength", 405)
    .style("font-size", "20px")
    .text("Position on the receiver trajectory (meters)");

  // caption
  g.append("text")
    .attr("x", p.captionX)
    .attr("y", 640)
    .attr("text-anchor", "middle")
    .style("font-family", "'Liberation Serif', 'Times New Roman', serif")
    .style("font-size", "24px")
    .text(p.caption);
}

function drawLegend() {
  let lg = svg.append("g");
  lg.append("rect")
    .attr("x", 421.5).attr("y", 1.5)
    .attr("width", 526).attr("height", 77)
    .attr("fill", "#fff")
    .attr("stroke", "#000")
    .attr("stroke-width", 2);

  // column x of the sample line, text x; row y
  let cols = [[435, 475, 489], [656, 696, 707], [829, 869, 879]];
  let rows = [30, 54.5];
  let items = [["cbp9", 0, 0], ["cbp12", 0, 1], ["mmse", 1, 0], ["mber", 1, 1], ["wf", 2, 0], ["edmin", 2, 1]];

  items.forEach(function(it) {
    let c = cols[it[1]], ry = rows[it[2]];
    lg.append("line")
      .attr("x1", c[0]).attr("x2", c[1])
      .attr("y1", ry).attr("y2", ry)
      .attr("stroke", seriesColors[it[0]])
      .attr("stroke-width", 2);
    let t = lg.append("text")
      .attr("x", c[2])
      .attr("y", ry + 7.5)
      .style("font-size", "19px");
    if (it[0] === "cbp9" || it[0] === "cbp12") {
      t.append("tspan").text("CBP, ");
      t.append("tspan")
        .style("font-family", "'Liberation Serif', serif")
        .style("font-style", "italic")
        .text("B");
      t.append("tspan").text(" = 10");
      t.append("tspan")
        .attr("dy", -8)
        .style("font-size", "13px")
        .text(it[0] === "cbp9" ? "-9" : "-12");
    } else if (it[0] === "edmin") {
      t.append("tspan").text("E-d");
      t.append("tspan")
        .attr("dy", 5)
        .style("font-size", "13px")
        .text("min");
    } else {
      t.text(it[0] === "mmse" ? "MMSE" : it[0] === "mber" ? "MBER" : "WF");
    }
  });
}
</script>
</body>
</html>
